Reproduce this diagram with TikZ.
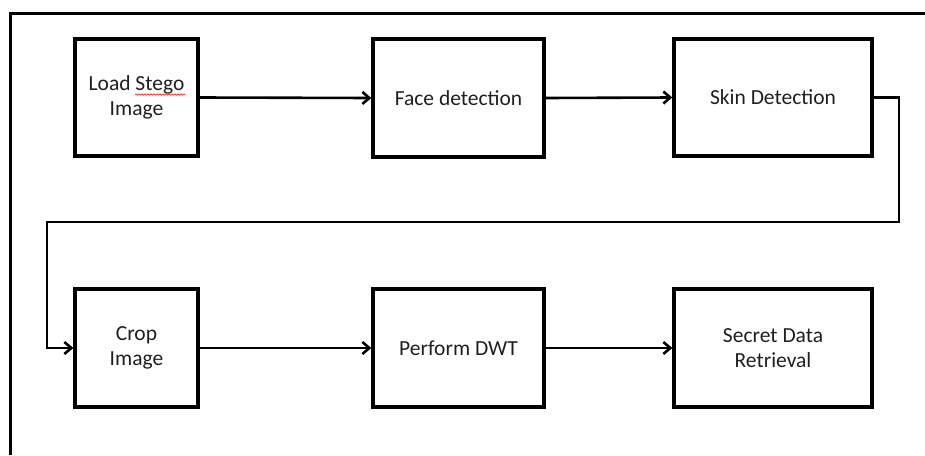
\documentclass[tikz,border=0pt]{standalone}
\usepackage{fontspec}
\setmainfont{Carlito}
\usetikzlibrary{arrows.meta,decorations.pathmorphing}
\begin{document}
\begin{tikzpicture}[x=1pt,y=-1pt,
  stepbox/.style={draw=black,line width=3.3pt,rectangle,align=center,
    inner sep=0pt,font=\fontsize{21.5}{25}\selectfont,text=black!88},
  conn/.style={draw=black,line width=2.6pt,-{Straight Barb[length=7pt,width=12pt,line width=2.6pt]}},
  frame/.style={draw=black,line width=3pt}]
\useasboundingbox (0,0) rectangle (925,455);
\node[stepbox,minimum width=123pt,minimum height=117pt] (load) at (136.5,97.5) {Load Stego\\Image};
\node[stepbox,minimum width=171pt,minimum height=118pt] (face) at (458.5,98) {Face detection};
\node[stepbox,minimum width=198pt,minimum height=117pt] (skin) at (773,97.5) {Skin Detection};
\node[stepbox,minimum width=123pt,minimum height=118pt] (crop) at (136.5,348) {Crop\\Image};
\node[stepbox,minimum width=171pt,minimum height=118pt] (dwt) at (458.5,348) {Perform DWT};
\node[stepbox,minimum width=198pt,minimum height=118pt] (secret) at (773,348) {Secret Data\\Retrieval};
\coordinate (c1) at (899,97.5);
\coordinate (c2) at (899,222);
\coordinate (c3) at (47,222);
\coordinate (c4) at (47,348);
\draw[frame] (10,455) -- (10,13) -- (925,13);
\draw[conn] (load.east) -- (face.west);
\draw[conn] (face.east) -- (skin.west);
\draw[conn] (skin.east) -- (c1) -- (c2) -- (c3) -- (c4) -- (crop.west);
\draw[conn] (crop.east) -- (dwt.west);
\draw[conn] (dwt.east) -- (secret.west);
\draw[red,line width=0.6pt,decorate,decoration={snake,amplitude=0.7pt,segment length=3pt}] (135,94.5) -- (185,94.5);
\end{tikzpicture}
\end{document}
